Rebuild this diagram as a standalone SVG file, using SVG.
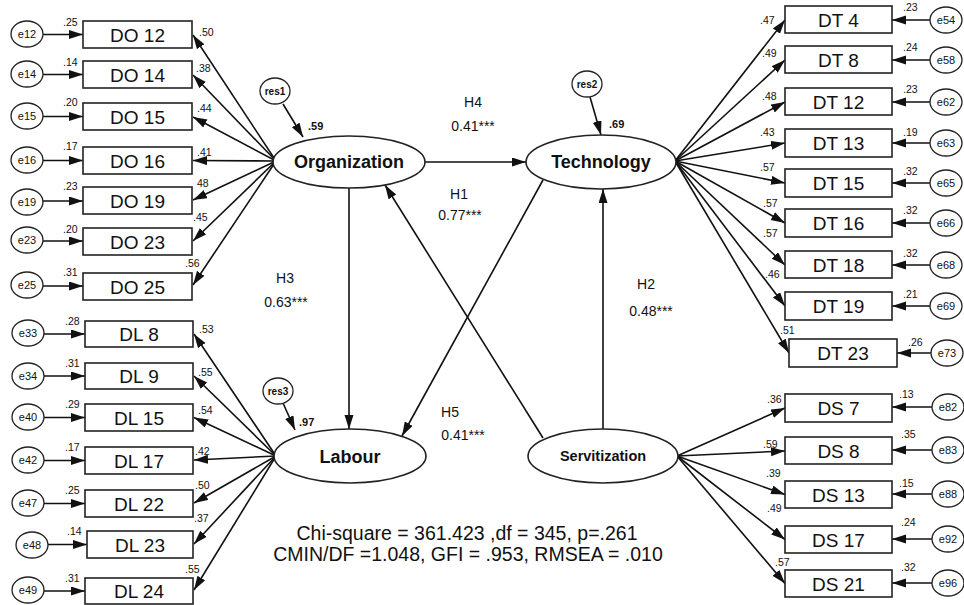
<svg xmlns="http://www.w3.org/2000/svg" width="964" height="605" viewBox="0 0 964 605">
<style>
.bx{fill:#fff;stroke:#222;stroke-width:1.6}
.el{fill:#fff;stroke:#222;stroke-width:1.6}
.ec{fill:#fff;stroke:#222;stroke-width:1.3}
.ln{stroke:#111;stroke-width:1.6;fill:none;marker-end:url(#ah)}
text{font-family:"Liberation Sans",Arial,sans-serif;fill:#111}
.bt{font-size:19px;text-anchor:middle}
.et{font-size:11px;text-anchor:middle}
.sm{font-size:10.5px}
.lv{font-weight:bold;text-anchor:middle}
.rs{font-size:10px;font-weight:bold;text-anchor:middle}
.hl{font-size:14px;text-anchor:middle}
.st{font-size:19.5px;text-anchor:middle}
</style>
<defs>
<marker id="ah" markerWidth="15" markerHeight="10" refX="14" refY="4.5" orient="auto" markerUnits="userSpaceOnUse">
<path d="M0,0 L14,4.5 L0,9 z" fill="#111"/>
</marker>
</defs>
<rect width="964" height="605" fill="#fff"/>
<g id="connectors">
<line class="ln" x1="43" y1="34.5" x2="83" y2="34.5"/>
<line class="ln" x1="43" y1="74.5" x2="83" y2="74.5"/>
<line class="ln" x1="43" y1="116.5" x2="83" y2="116.5"/>
<line class="ln" x1="43" y1="160.5" x2="83" y2="160.5"/>
<line class="ln" x1="43" y1="201" x2="83" y2="201"/>
<line class="ln" x1="43" y1="241" x2="83" y2="241"/>
<line class="ln" x1="43" y1="286" x2="83" y2="286"/>
<line class="ln" x1="44" y1="334" x2="85" y2="334"/>
<line class="ln" x1="44" y1="376" x2="85" y2="376"/>
<line class="ln" x1="44" y1="417.5" x2="85" y2="417.5"/>
<line class="ln" x1="44" y1="460.5" x2="85" y2="460.5"/>
<line class="ln" x1="44" y1="503.5" x2="85" y2="503.5"/>
<line class="ln" x1="48" y1="544.5" x2="87" y2="544.5"/>
<line class="ln" x1="44" y1="591" x2="85" y2="591"/>
<line class="ln" x1="276" y1="161" x2="193" y2="35"/>
<line class="ln" x1="276" y1="161" x2="193" y2="75"/>
<line class="ln" x1="276" y1="161" x2="193" y2="117"/>
<line class="ln" x1="276" y1="161" x2="193" y2="160.5"/>
<line class="ln" x1="276" y1="161" x2="193" y2="200"/>
<line class="ln" x1="276" y1="161" x2="193" y2="241"/>
<line class="ln" x1="276" y1="161" x2="193" y2="285"/>
<line class="ln" x1="276" y1="456" x2="194" y2="334"/>
<line class="ln" x1="276" y1="456" x2="194" y2="376"/>
<line class="ln" x1="276" y1="456" x2="194" y2="417.5"/>
<line class="ln" x1="276" y1="456" x2="194" y2="460"/>
<line class="ln" x1="276" y1="456" x2="194" y2="503"/>
<line class="ln" x1="276" y1="456" x2="194" y2="544"/>
<line class="ln" x1="276" y1="456" x2="194" y2="590"/>
<line class="ln" x1="675" y1="161" x2="785" y2="20"/>
<line class="ln" x1="675" y1="161" x2="785" y2="60"/>
<line class="ln" x1="675" y1="161" x2="785" y2="102"/>
<line class="ln" x1="675" y1="161" x2="785" y2="143"/>
<line class="ln" x1="675" y1="161" x2="785" y2="183"/>
<line class="ln" x1="675" y1="161" x2="785" y2="223"/>
<line class="ln" x1="675" y1="161" x2="785" y2="265"/>
<line class="ln" x1="675" y1="161" x2="785" y2="306"/>
<line class="ln" x1="675" y1="161" x2="789" y2="353"/>
<line class="ln" x1="677" y1="456" x2="785" y2="408"/>
<line class="ln" x1="677" y1="456" x2="785" y2="451"/>
<line class="ln" x1="677" y1="456" x2="785" y2="494.5"/>
<line class="ln" x1="677" y1="456" x2="785" y2="539.5"/>
<line class="ln" x1="677" y1="456" x2="785" y2="583.5"/>
<line class="ln" x1="930" y1="20" x2="892" y2="20"/>
<line class="ln" x1="930" y1="60" x2="892" y2="60"/>
<line class="ln" x1="930" y1="102" x2="892" y2="102"/>
<line class="ln" x1="930" y1="143" x2="892" y2="143"/>
<line class="ln" x1="930" y1="183" x2="892" y2="183"/>
<line class="ln" x1="930" y1="223" x2="892" y2="223"/>
<line class="ln" x1="930" y1="265" x2="892" y2="265"/>
<line class="ln" x1="930" y1="306" x2="892" y2="306"/>
<line class="ln" x1="931" y1="353" x2="897" y2="353"/>
<line class="ln" x1="932" y1="407" x2="892" y2="407"/>
<line class="ln" x1="932" y1="450" x2="892" y2="450"/>
<line class="ln" x1="932" y1="494" x2="892" y2="494"/>
<line class="ln" x1="932" y1="539" x2="892" y2="539"/>
<line class="ln" x1="932" y1="583" x2="892" y2="583"/>
<line class="ln" x1="283" y1="104" x2="303" y2="137"/>
<line class="ln" x1="590" y1="97" x2="601" y2="135"/>
<line class="ln" x1="283" y1="403" x2="295" y2="430"/>
<line class="ln" x1="425" y1="162" x2="526" y2="162"/>
<line class="ln" x1="349" y1="188" x2="349" y2="429"/>
<line class="ln" x1="543" y1="180" x2="402" y2="436"/>
<line class="ln" x1="543" y1="438" x2="385" y2="185"/>
<line class="ln" x1="603" y1="430" x2="603" y2="189"/>
</g>
<g id="latent-organization"><ellipse class="el" cx="349" cy="162" rx="76" ry="26"/><text class="lv" x="349" y="168" font-size="18">Organization</text></g>
<g id="latent-technology"><ellipse class="el" cx="601" cy="162" rx="75" ry="27"/><text class="lv" x="601" y="168" font-size="18">Technology</text></g>
<g id="latent-labour"><ellipse class="el" cx="350" cy="456" rx="76" ry="27"/><text class="lv" x="350" y="463" font-size="18">Labour</text></g>
<g id="latent-servitization"><ellipse class="el" cx="603" cy="456" rx="75" ry="27"/><text class="lv" x="603" y="461" font-size="14.5">Servitization</text></g>
<g id="res1"><ellipse class="ec" cx="275" cy="91" rx="15" ry="13"/><text class="rs" x="275" y="95">res1</text></g>
<g id="res2"><ellipse class="ec" cx="587" cy="84" rx="15" ry="13"/><text class="rs" x="587" y="88">res2</text></g>
<g id="res3"><ellipse class="ec" cx="278" cy="391" rx="15" ry="13"/><text class="rs" x="278" y="395">res3</text></g>
<g id="DO12"><rect class="bx" x="83" y="21" width="109" height="27"/><text class="bt" x="137.5" y="41.5">DO 12</text></g>
<g id="DO14"><rect class="bx" x="83" y="61" width="109" height="27"/><text class="bt" x="137.5" y="81.5">DO 14</text></g>
<g id="DO15"><rect class="bx" x="83" y="103" width="109" height="27"/><text class="bt" x="137.5" y="123.5">DO 15</text></g>
<g id="DO16"><rect class="bx" x="83" y="147" width="109" height="27"/><text class="bt" x="137.5" y="167.5">DO 16</text></g>
<g id="DO19"><rect class="bx" x="83" y="187" width="109" height="27"/><text class="bt" x="137.5" y="207.5">DO 19</text></g>
<g id="DO23"><rect class="bx" x="83" y="228" width="109" height="27"/><text class="bt" x="137.5" y="248.5">DO 23</text></g>
<g id="DO25"><rect class="bx" x="83" y="273" width="109" height="27"/><text class="bt" x="137.5" y="293.5">DO 25</text></g>
<g id="DL8"><rect class="bx" x="85" y="321" width="108" height="26"/><text class="bt" x="139" y="341">DL 8</text></g>
<g id="DL9"><rect class="bx" x="85" y="363" width="108" height="26"/><text class="bt" x="139" y="383">DL 9</text></g>
<g id="DL15"><rect class="bx" x="85" y="404" width="108" height="27"/><text class="bt" x="139" y="424.5">DL 15</text></g>
<g id="DL17"><rect class="bx" x="85" y="447" width="108" height="27"/><text class="bt" x="139" y="467.5">DL 17</text></g>
<g id="DL22"><rect class="bx" x="85" y="490" width="108" height="27"/><text class="bt" x="139" y="510.5">DL 22</text></g>
<g id="DL23"><rect class="bx" x="87" y="531" width="106" height="27"/><text class="bt" x="140" y="551.5">DL 23</text></g>
<g id="DL24"><rect class="bx" x="85" y="578" width="108" height="26"/><text class="bt" x="139" y="598">DL 24</text></g>
<g id="DT4"><rect class="bx" x="785" y="6" width="107" height="27"/><text class="bt" x="838.5" y="26.5">DT 4</text></g>
<g id="DT8"><rect class="bx" x="785" y="46" width="107" height="27"/><text class="bt" x="838.5" y="66.5">DT 8</text></g>
<g id="DT12"><rect class="bx" x="785" y="88" width="107" height="27"/><text class="bt" x="838.5" y="108.5">DT 12</text></g>
<g id="DT13"><rect class="bx" x="785" y="129" width="107" height="28"/><text class="bt" x="838.5" y="150">DT 13</text></g>
<g id="DT15"><rect class="bx" x="785" y="169" width="107" height="28"/><text class="bt" x="838.5" y="190">DT 15</text></g>
<g id="DT16"><rect class="bx" x="785" y="209" width="107" height="28"/><text class="bt" x="838.5" y="230">DT 16</text></g>
<g id="DT18"><rect class="bx" x="785" y="251" width="107" height="27"/><text class="bt" x="838.5" y="271.5">DT 18</text></g>
<g id="DT19"><rect class="bx" x="785" y="292" width="107" height="28"/><text class="bt" x="838.5" y="313">DT 19</text></g>
<g id="DT23"><rect class="bx" x="789" y="339" width="108" height="28"/><text class="bt" x="843" y="360">DT 23</text></g>
<g id="DS7"><rect class="bx" x="785" y="394" width="107" height="28"/><text class="bt" x="838.5" y="415">DS 7</text></g>
<g id="DS8"><rect class="bx" x="785" y="437" width="107" height="27"/><text class="bt" x="838.5" y="457.5">DS 8</text></g>
<g id="DS13"><rect class="bx" x="785" y="481" width="107" height="27"/><text class="bt" x="838.5" y="501.5">DS 13</text></g>
<g id="DS17"><rect class="bx" x="785" y="526" width="107" height="27"/><text class="bt" x="838.5" y="546.5">DS 17</text></g>
<g id="DS21"><rect class="bx" x="785" y="570" width="107" height="27"/><text class="bt" x="838.5" y="590.5">DS 21</text></g>
<g id="e12"><ellipse class="ec" cx="27" cy="34" rx="16" ry="13"/><text class="et" x="27" y="38">e12</text></g>
<g id="e14"><ellipse class="ec" cx="27" cy="74" rx="16" ry="13"/><text class="et" x="27" y="78">e14</text></g>
<g id="e15"><ellipse class="ec" cx="27" cy="116" rx="16" ry="13"/><text class="et" x="27" y="120">e15</text></g>
<g id="e16"><ellipse class="ec" cx="27" cy="160" rx="16" ry="13"/><text class="et" x="27" y="164">e16</text></g>
<g id="e19"><ellipse class="ec" cx="27" cy="202" rx="16" ry="13"/><text class="et" x="27" y="206">e19</text></g>
<g id="e23"><ellipse class="ec" cx="27" cy="240" rx="16" ry="13"/><text class="et" x="27" y="244">e23</text></g>
<g id="e25"><ellipse class="ec" cx="27" cy="285" rx="16" ry="13"/><text class="et" x="27" y="289">e25</text></g>
<g id="e33"><ellipse class="ec" cx="28" cy="333" rx="16" ry="13"/><text class="et" x="28" y="337">e33</text></g>
<g id="e34"><ellipse class="ec" cx="28" cy="376" rx="16" ry="13"/><text class="et" x="28" y="380">e34</text></g>
<g id="e40"><ellipse class="ec" cx="28" cy="417" rx="16" ry="13"/><text class="et" x="28" y="421">e40</text></g>
<g id="e42"><ellipse class="ec" cx="28" cy="460" rx="16" ry="13"/><text class="et" x="28" y="464">e42</text></g>
<g id="e47"><ellipse class="ec" cx="28" cy="503" rx="16" ry="13"/><text class="et" x="28" y="507">e47</text></g>
<g id="e48"><ellipse class="ec" cx="32" cy="545" rx="16" ry="13"/><text class="et" x="32" y="549">e48</text></g>
<g id="e49"><ellipse class="ec" cx="28" cy="590" rx="16" ry="13"/><text class="et" x="28" y="594">e49</text></g>
<g id="e54"><ellipse class="ec" cx="946" cy="20" rx="16" ry="13"/><text class="et" x="946" y="24">e54</text></g>
<g id="e58"><ellipse class="ec" cx="946" cy="60" rx="16" ry="13"/><text class="et" x="946" y="64">e58</text></g>
<g id="e62"><ellipse class="ec" cx="946" cy="102" rx="16" ry="13"/><text class="et" x="946" y="106">e62</text></g>
<g id="e63"><ellipse class="ec" cx="946" cy="143" rx="16" ry="13"/><text class="et" x="946" y="147">e63</text></g>
<g id="e65"><ellipse class="ec" cx="946" cy="183" rx="16" ry="13"/><text class="et" x="946" y="187">e65</text></g>
<g id="e66"><ellipse class="ec" cx="946" cy="223" rx="16" ry="13"/><text class="et" x="946" y="227">e66</text></g>
<g id="e68"><ellipse class="ec" cx="946" cy="265" rx="16" ry="13"/><text class="et" x="946" y="269">e68</text></g>
<g id="e69"><ellipse class="ec" cx="946" cy="306" rx="16" ry="13"/><text class="et" x="946" y="310">e69</text></g>
<g id="e73"><ellipse class="ec" cx="947" cy="353" rx="16" ry="13"/><text class="et" x="947" y="357">e73</text></g>
<g id="e82"><ellipse class="ec" cx="948" cy="407" rx="16" ry="13"/><text class="et" x="948" y="411">e82</text></g>
<g id="e83"><ellipse class="ec" cx="948" cy="450" rx="16" ry="13"/><text class="et" x="948" y="454">e83</text></g>
<g id="e88"><ellipse class="ec" cx="948" cy="494" rx="16" ry="13"/><text class="et" x="948" y="498">e88</text></g>
<g id="e92"><ellipse class="ec" cx="948" cy="539" rx="16" ry="13"/><text class="et" x="948" y="543">e92</text></g>
<g id="e96"><ellipse class="ec" cx="948" cy="583" rx="16" ry="13"/><text class="et" x="948" y="587">e96</text></g>
<g id="labels-left" class="sm">
<text x="63" y="26">.25</text><text x="63" y="66">.14</text><text x="63" y="106">.20</text><text x="63" y="150">.17</text><text x="63" y="190">.23</text><text x="63" y="233">.20</text><text x="63" y="276">.31</text>
<text x="199" y="36">.50</text><text x="196" y="72">.38</text><text x="197" y="112">.44</text><text x="197" y="156">.41</text><text x="197" y="187">48</text><text x="193" y="221">.45</text><text x="185" y="267">.56</text>
<text x="65" y="325">.28</text><text x="65" y="367">.31</text><text x="65" y="408">.29</text><text x="65" y="451">.17</text><text x="65" y="494">.25</text><text x="67" y="535">.14</text><text x="65" y="582">.31</text>
<text x="199" y="333">.53</text><text x="198" y="376">.55</text><text x="198" y="414">.54</text><text x="195" y="455">.42</text><text x="195" y="489">.50</text><text x="194" y="522">.37</text><text x="185" y="573">.55</text>
</g>
<g id="labels-right" class="sm">
<text x="760" y="24">.47</text><text x="762" y="57">.49</text><text x="762" y="100">.48</text><text x="760" y="136">.43</text><text x="760" y="171">.57</text><text x="763" y="207">.57</text><text x="763" y="237">.57</text><text x="765" y="278">.46</text><text x="780" y="334">.51</text>
<text x="903" y="11">.23</text><text x="903" y="51">.24</text><text x="903" y="93">.23</text><text x="903" y="136">.19</text><text x="903" y="175">.32</text><text x="903" y="214">.32</text><text x="903" y="257">.32</text><text x="903" y="298">.21</text><text x="908" y="346">.26</text>
<text x="767" y="403">.36</text><text x="763" y="448">.59</text><text x="766" y="477">.39</text><text x="767" y="512">.49</text><text x="775" y="566">.57</text>
<text x="899" y="398">.13</text><text x="901" y="438">.35</text><text x="899" y="487">.15</text><text x="901" y="526">.24</text><text x="901" y="571">.32</text>
</g>
<g id="r2-labels" font-size="11" font-weight="bold">
<text x="308" y="130">.59</text><text x="609" y="128">.69</text><text x="299" y="426">.97</text>
</g>
<g id="path-labels">
<text class="hl" x="473" y="107">H4</text><text class="hl" x="473" y="131">0.41***</text>
<text class="hl" x="459" y="199" font-size="13">H1</text><text class="hl" x="460" y="220" font-size="13">0.77***</text>
<text class="hl" x="285" y="283">H3</text><text class="hl" x="286" y="307">0.63***</text>
<text class="hl" x="646" y="289">H2</text><text class="hl" x="651" y="316">0.48***</text>
<text class="hl" x="450" y="417">H5</text><text class="hl" x="463" y="440" font-size="13">0.41***</text>
</g>
<g id="fit-stats">
<text class="st" x="467" y="540">Chi-square = 361.423 ,df = 345, p=.261</text>
<text class="st" x="468" y="561">CMIN/DF =1.048, GFI = .953, RMSEA = .010</text>
</g>
</svg>
